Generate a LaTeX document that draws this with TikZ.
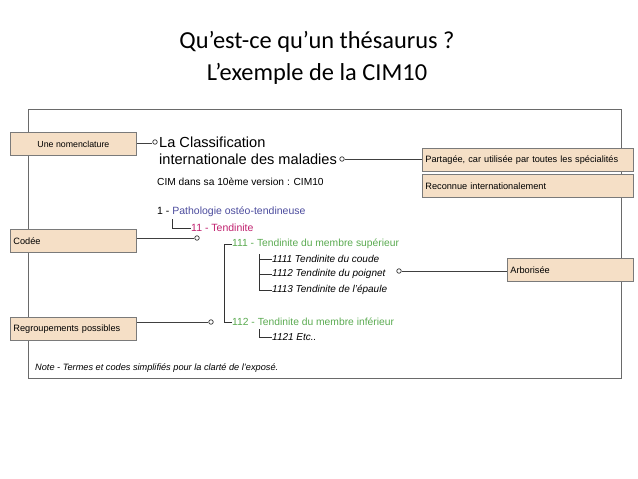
\documentclass[tikz,border=0pt]{standalone}
\usepackage{fontspec}
\setmainfont{Liberation Sans}
\newfontfamily\titlefont{Carlito}
\usetikzlibrary{calc}
\definecolor{boxfill}{HTML}{F5DFC6}
\definecolor{boxline}{HTML}{7A7A7A}
\definecolor{frameline}{HTML}{6A6A6A}
\definecolor{cblue}{HTML}{4B4B9D}
\definecolor{cmag}{HTML}{C0206E}
\definecolor{cgreen}{HTML}{5AAA50}
\tikzset{
  infobox/.style={draw=boxline, fill=boxfill, line width=0.8pt, minimum height=23pt, inner sep=3pt, font=\fontsize{9.2}{11}\selectfont},
  leftbox/.style={infobox, text width=120pt, align=left},
  txt/.style={anchor=west, inner sep=0pt},
  pin/.style={circle, draw=black!80, fill=white, line width=0.7pt, inner sep=0pt, minimum size=4.5pt},
  conn/.style={draw=black!75, line width=0.9pt},
  tree/.style={draw=black!80, line width=0.9pt},
}
\begin{document}
\begin{tikzpicture}[x=1pt,y=-1pt]
\useasboundingbox (0,0) rectangle (638,479);
% title
\node[font=\titlefont\fontsize{24.4}{32}\selectfont, align=center] (title) at (317,58) {Qu’est-ce qu’un thésaurus ?\\L’exemple de la CIM10};
% frame
\draw[frameline, line width=0.9pt] (28,109) rectangle (621,378);
% left boxes
\node[infobox, minimum width=126pt, anchor=north west, align=center, font=\fontsize{8.8}{11}\selectfont] (bnom) at (10,132) {Une nomenclature};
\node[leftbox, minimum width=126pt, anchor=north west] (bcod) at (10,229) {Codée};
\node[leftbox, minimum width=126pt, anchor=north west] (breg) at (10,317) {Regroupements possibles};
% right boxes
\node[infobox, minimum width=211pt, text width=205pt, align=left, anchor=north west] (bpart) at (422,148) {Partagée, car utilisée par toutes les spécialités};
\node[infobox, minimum width=211pt, text width=205pt, align=left, anchor=north west] (brec) at (422,174) {Reconnue internationalement};
\node[infobox, minimum width=126pt, text width=120pt, align=left, anchor=north west] (barb) at (507,258) {Arborisée};
% main texts
\node[inner sep=0pt, anchor=base west, font=\fontsize{14.6}{17}\selectfont] (lc1) at (159,147) {La Classification};
\node[inner sep=0pt, anchor=base west, font=\fontsize{14.6}{17}\selectfont] (lc2) at (159,164) {internationale des maladies};
\node[txt, font=\fontsize{10.2}{12}\selectfont] (cim) at (157,182) {CIM dans sa 10ème version : CIM10};
\node[txt, font=\fontsize{10.5}{12}\selectfont] (t1) at (157,212) {1 - \textcolor{cblue}{Pathologie ostéo-tendineuse}};
\node[txt, font=\fontsize{10.5}{12}\selectfont, text=cmag] (t11) at (191,228) {11 - Tendinite};
\node[txt, font=\fontsize{10.3}{12}\selectfont, text=cgreen] (t111) at (232,244) {111 - Tendinite du membre supérieur};
\node[txt, font=\fontsize{10}{12}\itshape] (s1) at (272,259) {1111 Tendinite du coude};
\node[txt, font=\fontsize{10}{12}\itshape] (s2) at (272,274) {1112 Tendinite du poignet};
\node[txt, font=\fontsize{10}{12}\itshape] (s3) at (272,290) {1113 Tendinite de l’épaule};
\node[txt, font=\fontsize{10.3}{12}\selectfont, text=cgreen] (t112) at (232,322) {112 - Tendinite du membre inférieur};
\node[txt, font=\fontsize{10}{12}\itshape] (s4) at (272,337) {1121 Etc..};
\node[txt, font=\fontsize{9.2}{11}\itshape] (note) at (35,368) {Note - Termes et codes simplifiés pour la clarté de l'exposé.};
% tree lines
\coordinate (k1) at (172,219);
\draw[tree] (k1) |- (t11.west);
\draw[tree] (t111.west) -- ++(-8,0) |- (t112.west);
\draw[tree] ($(s1.west)+(-13,-5)$) |- (s3.west);
\draw[tree] (s1.west) -- ++(-13,0);
\draw[tree] (s2.west) -- ++(-13,0);
\draw[tree] ($(s4.west)+(-13,-8)$) |- (s4.west);
% pins
\node[pin] (c1) at (155,142) {};
\node[pin] (c2) at (342,159) {};
\node[pin] (c3) at (197,238) {};
\node[pin] (c4) at (211,322) {};
\node[pin] (c5) at (399,271) {};
% connectors
\draw[conn] (bnom.east) -- (bnom.east -| c1.west);
\draw[conn] (c2.east) -- (c2.east -| bpart.west);
\draw[conn] (bcod.east |- c3) -- (c3.west);
\draw[conn] (breg.east |- c4) -- (c4.west);
\draw[conn] (c5.east) -- (c5.east -| barb.west);
\end{tikzpicture}
\end{document}
